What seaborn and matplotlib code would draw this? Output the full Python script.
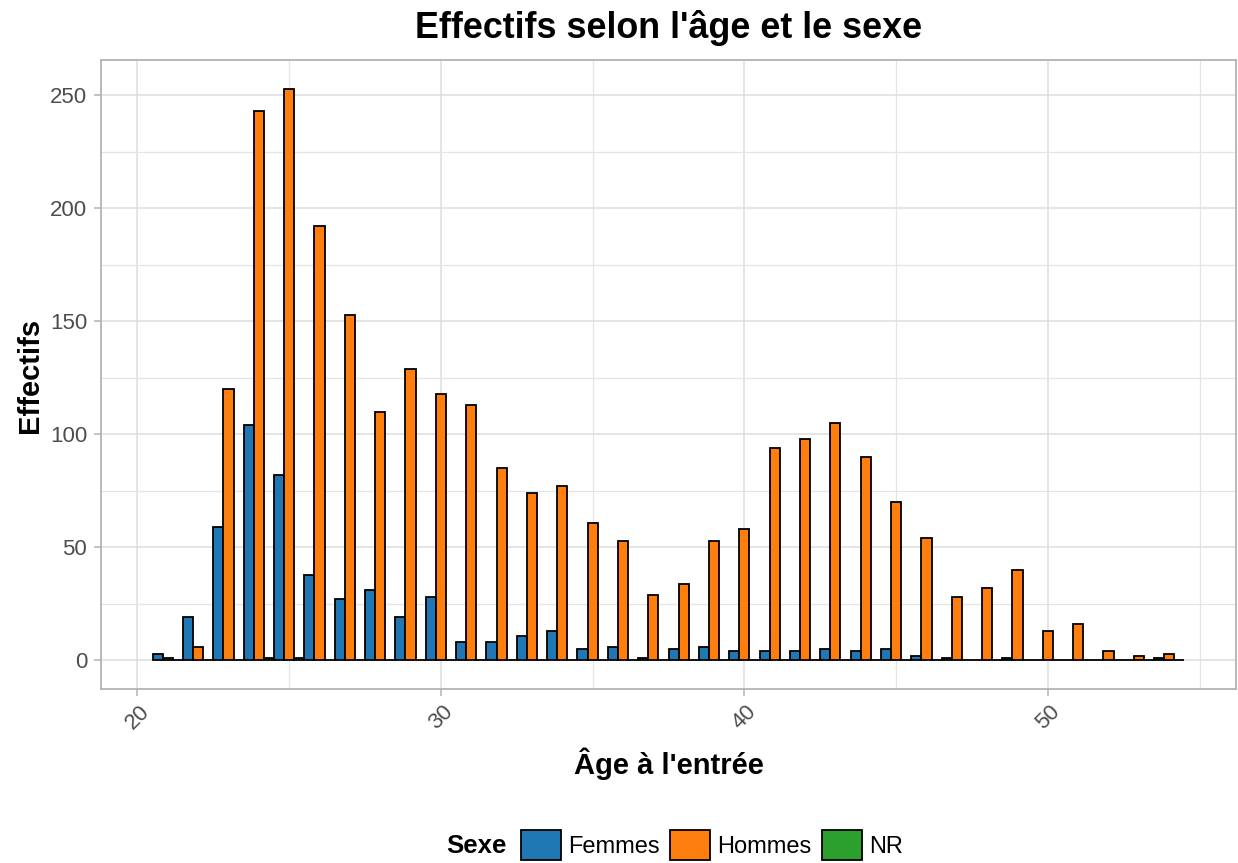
"""
Effectifs selon l'âge et le sexe - histogramme groupé
"""

import matplotlib
matplotlib.use('Agg')
import matplotlib.pyplot as plt
from matplotlib.patches import Patch
from matplotlib.ticker import MultipleLocator
import seaborn as sns
import pandas as pd

# Données
ages = list(range(21, 55))
femmes = [3, 19, 59, 104, 82, 38, 27, 31, 19, 28, 8, 8, 11, 13, 5, 6, 1,
          5, 6, 4, 4, 4, 5, 4, 5, 2, 1, 0, 1, 0, 0, 0, 0, 1]
hommes = [1, 6, 120, 243, 253, 192, 153, 110, 129, 118, 113, 85, 74, 77,
          61, 53, 29, 34, 53, 58, 94, 98, 105, 90, 70, 54, 28, 32, 40, 13,
          16, 4, 2, 3]
nr = [0, 0, 0, 1, 1, 0, 0, 0, 0, 0, 0, 0, 0, 0, 0, 0, 0, 0, 0, 0, 0, 0,
      0, 0, 0, 0, 0, 0, 0, 0, 0, 0, 0, 0]
sexes = ['Femmes', 'Hommes', 'NR']
couleurs = ['#1F77B4', '#FF7F0E', '#2CA02C']

df = pd.DataFrame({
    'age': ages * 3,
    'sexe': [s for s in sexes for _ in ages],
    'effectif': femmes + hommes + nr,
})

sns.set_theme(style='white')
plt.rcParams['font.family'] = ['Liberation Sans', 'DejaVu Sans']
plt.rcParams['text.color'] = 'black'

W, H = 1238, 863
fig = plt.figure(figsize=(W / 100, H / 100), dpi=100)
ax = fig.add_axes([101 / W, (H - 689) / H, 1135 / W, 629 / H])

palette = dict(zip(sexes, couleurs))
sns.barplot(data=df, x='age', y='effectif', hue='sexe', hue_order=sexes,
            palette=palette, native_scale=True, width=1, dodge=True,
            errorbar=None, edgecolor='black', linewidth=1.3, saturation=1,
            legend=False, ax=ax)

# Echelles (expansion 5% comme ggplot)
ax.set_xlim(18.8, 56.2)
ax.set_ylim(-12.65, 265.65)
ax.xaxis.set_major_locator(MultipleLocator(10))
ax.xaxis.set_minor_locator(MultipleLocator(5))
ax.yaxis.set_major_locator(MultipleLocator(50))
ax.yaxis.set_minor_locator(MultipleLocator(25))

ax.set_axisbelow(True)
ax.grid(which='major', color='#DEDEDE', linewidth=1.1)
ax.grid(which='minor', color='#E5E5E5', linewidth=0.9)
for sp in ax.spines.values():
    sp.set_color('#B3B3B3')
    sp.set_linewidth(1.3)

ax.tick_params(which='major', length=5, width=1.1, color='#B3B3B3',
               labelcolor='#4D4D4D', labelsize=16, pad=3)
ax.tick_params(which='minor', length=0)
ax.tick_params(axis='x', bottom=True, labelrotation=45, pad=4)
ax.tick_params(axis='y', left=True, pad=5)
for lab in ax.get_xticklabels():
    lab.set_ha('center')
    lab.set_va('top')

ax.set_xlabel('')
ax.set_ylabel('')

# Titres
fig.text(668.5 / W, 1 - 28 / H, "Effectifs selon l'âge et le sexe",
         ha='center', va='center', fontsize=25.8, fontweight='bold')
fig.text(668.5 / W, 1 - 764 / H, "Âge à l'entrée",
         ha='center', va='center', fontsize=21, fontweight='bold')
fig.text(30 / W, 1 - 375 / H, 'Effectifs', rotation=90,
         ha='center', va='center', fontsize=21, fontweight='bold')

# Légende en bas
handles = [Patch(facecolor=c, edgecolor='black', linewidth=1.3) for c in couleurs]
fig.legend(handles, sexes, loc='center', bbox_to_anchor=(712 / W, 1 - 845 / H),
           ncol=3, frameon=False, fontsize=17, handlelength=1.7,
           handleheight=1.6, handletextpad=0.3, columnspacing=0.45,
           borderpad=0)
fig.text(507 / W, 1 - 846 / H, 'Sexe', ha='right', va='center',
         fontsize=18.5, fontweight='bold')

fig.savefig('out.png', dpi=100)
